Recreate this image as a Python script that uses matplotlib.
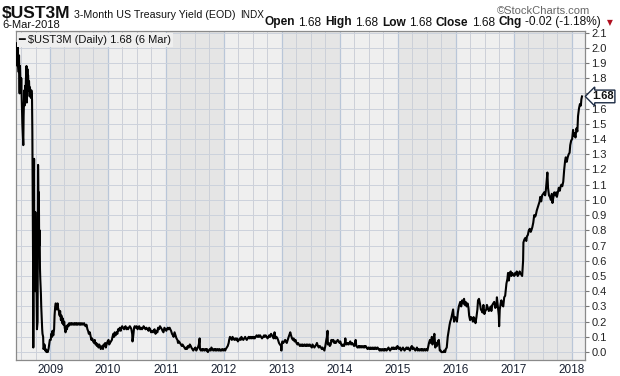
import datetime as dt
import matplotlib
matplotlib.use("Agg")
import matplotlib.pyplot as plt
import matplotlib.dates as mdates

plt.rcParams['font.family'] = ['Liberation Sans', 'DejaVu Sans']

# yields, per year: (MM-DD, value)
d2008 = ['06-06', '06-09', '06-11', '06-13', '06-17', '06-19', '06-23', '06-25', '06-27', '07-01',
         '07-03', '07-08', '07-10', '07-14', '07-16', '07-18', '07-22', '07-24', '07-28', '07-30',
         '08-01', '08-05', '08-07', '08-11', '08-13', '08-15', '08-19', '08-21', '08-25', '08-27',
         '08-29', '09-03', '09-05', '09-09', '09-11', '09-12', '09-15', '09-16', '09-17', '09-18',
         '09-19', '09-22', '09-23', '09-25', '09-26', '09-29', '09-30', '10-02', '10-06', '10-08',
         '10-10', '10-14', '10-16', '10-17', '10-20', '10-22', '10-24', '10-27', '10-29', '10-31',
         '11-04', '11-06', '11-10', '11-12', '11-14', '11-18', '11-20', '11-24', '11-26', '12-01',
         '12-04', '12-09', '12-12', '12-17', '12-22', '12-26', '12-30']
v2008 = [2.03, 1.88, 2.02, 1.90, 1.84, 1.95, 1.70, 1.88, 1.80, 1.72,
         1.80, 1.60, 1.50, 1.40, 1.36, 1.55, 1.72, 1.62, 1.75, 1.68,
         1.78, 1.88, 1.64, 1.86, 1.75, 1.82, 1.72, 1.78, 1.68, 1.74,
         1.70, 1.67, 1.72, 1.66, 1.45, 1.27, 0.80, 0.50, 0.03, 0.25,
         0.95, 1.27, 0.70, 0.60, 0.88, 0.40, 0.92, 0.60, 0.55, 0.35,
         0.15, 0.20, 0.90, 1.23, 0.95, 1.05, 0.70, 0.80, 0.55, 0.48,
         0.38, 0.30, 0.20, 0.15, 0.12, 0.10, 0.02, 0.03, 0.05, 0.01,
         0.02, 0.00, 0.01, 0.00, 0.02, 0.05, 0.08]

d2009 = ['01-05', '01-08', '01-13', '01-16', '01-21', '01-26', '01-29', '02-02', '02-05', '02-09',
         '02-12', '02-17', '02-20', '02-25', '03-02', '03-05', '03-10', '03-13', '03-18', '03-23',
         '03-26', '03-31', '04-03', '04-08', '04-14', '04-17', '04-22', '04-27', '05-01', '05-06',
         '05-11', '05-15', '05-20', '05-26', '06-01', '06-05', '06-10', '06-15', '06-19', '06-24',
         '06-30', '07-06', '07-10', '07-15', '07-21', '07-27', '08-03', '08-07', '08-12', '08-18',
         '08-24', '08-28', '09-02', '09-08', '09-14', '09-18', '09-23', '09-29', '10-05', '10-09',
         '10-14', '10-19', '10-23', '10-28', '11-02', '11-06', '11-11', '11-16', '11-20', '11-25',
         '11-30', '12-04', '12-09', '12-14', '12-18', '12-23', '12-29']
v2009 = [0.08, 0.12, 0.10, 0.14, 0.11, 0.15, 0.24, 0.30, 0.32, 0.31,
         0.28, 0.32, 0.29, 0.27, 0.24, 0.27, 0.21, 0.24, 0.19, 0.22,
         0.18, 0.20, 0.16, 0.13, 0.17, 0.15, 0.18, 0.17, 0.19, 0.18,
         0.19, 0.18, 0.19, 0.18, 0.19, 0.18, 0.19, 0.18, 0.19, 0.18,
         0.19, 0.18, 0.19, 0.18, 0.19, 0.18, 0.19, 0.18, 0.17, 0.18,
         0.15, 0.14, 0.12, 0.13, 0.10, 0.08, 0.09, 0.07, 0.06, 0.08,
         0.05, 0.06, 0.04, 0.05, 0.03, 0.05, 0.04, 0.02, 0.03, 0.04,
         0.02, 0.05, 0.04, 0.06, 0.03, 0.05, 0.07]

d2010 = ['01-04', '01-08', '01-13', '01-19', '01-25', '01-29', '02-03', '02-08', '02-12', '02-18',
         '02-24', '03-01', '03-05', '03-10', '03-16', '03-22', '03-26', '03-31', '04-06', '04-12',
         '04-16', '04-21', '04-27', '05-03', '05-07', '05-12', '05-18', '05-24', '05-28', '06-02',
         '06-04', '06-08', '06-14', '06-18', '06-24', '06-30', '07-06', '07-12', '07-16', '07-22',
         '07-28', '08-03', '08-09', '08-13', '08-19', '08-25', '08-31', '09-07', '09-13', '09-17',
         '09-23', '09-29', '10-05', '10-11', '10-15', '10-21', '10-27', '11-02', '11-08', '11-12',
         '11-18', '11-24', '11-30', '12-06', '12-10', '12-16', '12-22', '12-28']
v2010 = [0.08, 0.05, 0.06, 0.07, 0.08, 0.10, 0.12, 0.10, 0.13, 0.11,
         0.13, 0.12, 0.15, 0.14, 0.16, 0.14, 0.16, 0.17, 0.16, 0.15,
         0.16, 0.17, 0.15, 0.16, 0.15, 0.16, 0.17, 0.16, 0.15, 0.12,
         0.07, 0.10, 0.16, 0.17, 0.16, 0.17, 0.15, 0.16, 0.17, 0.15,
         0.16, 0.15, 0.16, 0.17, 0.16, 0.15, 0.16, 0.15, 0.14, 0.16,
         0.15, 0.13, 0.14, 0.13, 0.14, 0.15, 0.12, 0.14, 0.13, 0.16,
         0.15, 0.17, 0.16, 0.15, 0.14, 0.13, 0.16, 0.15]

d2011 = ['01-03', '01-07', '01-12', '01-18', '01-24', '01-28', '02-02', '02-08', '02-14', '02-18',
         '02-24', '03-02', '03-08', '03-14', '03-18', '03-24', '03-30', '04-05', '04-11', '04-15',
         '04-21', '04-27', '05-03', '05-09', '05-13', '05-19', '05-25', '05-31', '06-06', '06-10',
         '06-16', '06-22', '06-28', '07-05', '07-11', '07-15', '07-21', '07-27', '08-01', '08-03',
         '08-09', '08-15', '08-19', '08-25', '08-31', '09-06', '09-12', '09-16', '09-22', '09-28',
         '10-04', '10-10', '10-14', '10-20', '10-26', '11-01', '11-07', '11-11', '11-17', '11-23',
         '11-29', '12-05', '12-09', '12-15', '12-21', '12-27']
v2011 = [0.14, 0.15, 0.16, 0.15, 0.16, 0.15, 0.14, 0.12, 0.11, 0.10,
         0.13, 0.11, 0.09, 0.08, 0.06, 0.07, 0.06, 0.05, 0.04, 0.05,
         0.04, 0.03, 0.02, 0.03, 0.02, 0.04, 0.03, 0.05, 0.04, 0.03,
         0.02, 0.01, 0.02, 0.03, 0.01, 0.02, 0.03, 0.05, 0.09, 0.02,
         0.01, 0.02, 0.01, 0.02, 0.01, 0.02, 0.01, 0.02, 0.00, 0.01,
         0.02, 0.01, 0.03, 0.02, 0.01, 0.02, 0.01, 0.02, 0.01, 0.02,
         0.01, 0.02, 0.01, 0.01, 0.02, 0.01]

d2012 = ['01-03', '01-09', '01-13', '01-19', '01-25', '01-31', '02-03', '02-08', '02-14', '02-20',
         '02-24', '03-01', '03-07', '03-13', '03-19', '03-23', '03-29', '04-04', '04-10', '04-16',
         '04-20', '04-26', '05-02', '05-08', '05-14', '05-18', '05-24', '05-30', '06-05', '06-11',
         '06-15', '06-21', '06-27', '07-03', '07-09', '07-13', '07-19', '07-25', '07-31', '08-06',
         '08-10', '08-16', '08-22', '08-28', '09-04', '09-10', '09-14', '09-20', '09-26', '10-02',
         '10-08', '10-12', '10-18', '10-24', '10-30', '11-05', '11-09', '11-15', '11-21', '11-27',
         '12-03', '12-07', '12-13', '12-19', '12-26', '12-28', '12-31']
v2012 = [0.02, 0.01, 0.02, 0.03, 0.04, 0.06, 0.08, 0.10, 0.09, 0.08,
         0.10, 0.09, 0.08, 0.09, 0.08, 0.09, 0.07, 0.08, 0.09, 0.08,
         0.10, 0.09, 0.08, 0.09, 0.10, 0.09, 0.08, 0.09, 0.10, 0.09,
         0.10, 0.09, 0.10, 0.09, 0.10, 0.09, 0.10, 0.11, 0.10, 0.11,
         0.10, 0.11, 0.10, 0.09, 0.10, 0.11, 0.10, 0.11, 0.10, 0.09,
         0.10, 0.11, 0.10, 0.12, 0.11, 0.10, 0.09, 0.13, 0.09, 0.10,
         0.09, 0.08, 0.06, 0.05, 0.04, 0.01, 0.05]

d2013 = ['01-03', '01-09', '01-15', '01-21', '01-25', '01-31', '02-06', '02-12', '02-19', '02-22',
         '02-27', '03-05', '03-11', '03-15', '03-21', '03-27', '04-02', '04-08', '04-12', '04-18',
         '04-24', '04-30', '05-06', '05-10', '05-16', '05-22', '05-28', '06-03', '06-07', '06-13',
         '06-19', '06-25', '07-01', '07-08', '07-12', '07-18', '07-24', '07-30', '08-05', '08-09',
         '08-15', '08-21', '08-27', '09-03', '09-09', '09-13', '09-19', '09-25', '10-01', '10-07',
         '10-11', '10-15', '10-17', '10-23', '10-29', '11-04', '11-08', '11-14', '11-20', '11-26',
         '12-02', '12-06', '12-12', '12-18', '12-24', '12-30']
v2013 = [0.07, 0.06, 0.07, 0.08, 0.07, 0.06, 0.08, 0.10, 0.12, 0.13,
         0.11, 0.09, 0.08, 0.09, 0.07, 0.08, 0.06, 0.05, 0.06, 0.05,
         0.04, 0.05, 0.04, 0.05, 0.04, 0.05, 0.04, 0.05, 0.04, 0.05,
         0.04, 0.05, 0.04, 0.03, 0.05, 0.04, 0.03, 0.04, 0.05, 0.06,
         0.04, 0.03, 0.04, 0.03, 0.02, 0.03, 0.02, 0.01, 0.04, 0.08,
         0.10, 0.14, 0.05, 0.06, 0.04, 0.05, 0.08, 0.07, 0.08, 0.06,
         0.07, 0.06, 0.07, 0.08, 0.07, 0.06]

d2014 = ['01-03', '01-09', '01-15', '01-21', '01-27', '01-31', '02-04', '02-07', '02-13', '02-19',
         '02-25', '03-03', '03-07', '03-13', '03-19', '03-25', '03-31', '04-04', '04-10', '04-14',
         '04-22', '04-28', '05-02', '05-08', '05-14', '05-20', '05-27', '06-02', '06-06', '06-12',
         '06-18', '06-24', '06-30', '07-07', '07-11', '07-17', '07-23', '07-29', '08-04', '08-08',
         '08-14', '08-20', '08-26', '09-02', '09-08', '09-12', '09-18', '09-24', '09-30', '10-06',
         '10-10', '10-16', '10-22', '10-28', '11-03', '11-07', '11-13', '11-19', '11-25', '12-01',
         '12-05', '12-11', '12-17', '12-23', '12-29']
v2014 = [0.07, 0.05, 0.04, 0.05, 0.04, 0.05, 0.09, 0.06, 0.05, 0.06,
         0.05, 0.06, 0.07, 0.05, 0.06, 0.05, 0.04, 0.05, 0.08, 0.04,
         0.03, 0.04, 0.03, 0.04, 0.03, 0.04, 0.03, 0.04, 0.03, 0.04,
         0.03, 0.02, 0.03, 0.02, 0.03, 0.02, 0.03, 0.02, 0.03, 0.02,
         0.03, 0.02, 0.03, 0.02, 0.01, 0.02, 0.01, 0.02, 0.01, 0.02,
         0.01, 0.02, 0.01, 0.02, 0.03, 0.02, 0.01, 0.02, 0.03, 0.02,
         0.03, 0.02, 0.03, 0.02, 0.04]

d2015 = ['01-05', '01-09', '01-15', '01-21', '01-27', '02-02', '02-06', '02-12', '02-18', '02-24',
         '03-02', '03-06', '03-12', '03-18', '03-24', '03-30', '04-03', '04-09', '04-15', '04-21',
         '04-27', '05-01', '05-07', '05-13', '05-19', '05-26', '06-01', '06-05', '06-11', '06-17',
         '06-23', '06-29', '07-06', '07-10', '07-16', '07-22', '07-28', '08-03', '08-07', '08-13',
         '08-19', '08-25', '08-31', '09-04', '09-10', '09-16', '09-22', '09-28', '10-02', '10-08',
         '10-14', '10-20', '10-26', '10-30', '11-05', '11-11', '11-17', '11-23', '11-27', '12-03',
         '12-09', '12-15', '12-21', '12-28']
v2015 = [0.03, 0.02, 0.03, 0.01, 0.02, 0.03, 0.02, 0.01, 0.02, 0.03,
         0.02, 0.03, 0.02, 0.01, 0.03, 0.04, 0.02, 0.03, 0.02, 0.01,
         0.02, 0.03, 0.01, 0.02, 0.01, 0.02, 0.01, 0.02, 0.01, 0.02,
         0.01, 0.02, 0.01, 0.03, 0.06, 0.08, 0.06, 0.10, 0.05, 0.08,
         0.12, 0.03, 0.06, 0.04, 0.07, 0.08, 0.01, 0.01, 0.00, 0.00,
         0.00, 0.01, 0.00, 0.02, 0.03, 0.10, 0.14, 0.18, 0.20, 0.22,
         0.25, 0.28, 0.20, 0.23]

d2016 = ['01-04', '01-08', '01-14', '01-20', '01-26', '01-29', '02-04', '02-10', '02-16', '02-22',
         '02-26', '03-03', '03-09', '03-15', '03-21', '03-25', '03-31', '04-06', '04-12', '04-18',
         '04-22', '04-28', '05-04', '05-10', '05-16', '05-20', '05-26', '06-01', '06-07', '06-13',
         '06-17', '06-23', '06-29', '07-05', '07-11', '07-15', '07-21', '07-27', '08-02', '08-08',
         '08-12', '08-18', '08-24', '08-30', '09-06', '09-12', '09-16', '09-22', '09-28', '09-30',
         '10-04', '10-10', '10-14', '10-20', '10-26', '11-01', '11-07', '11-10', '11-15', '11-21',
         '11-25', '11-30', '12-06', '12-12', '12-16', '12-22', '12-28']
v2016 = [0.22, 0.20, 0.26, 0.30, 0.32, 0.33, 0.30, 0.34, 0.32, 0.35,
         0.31, 0.33, 0.30, 0.32, 0.29, 0.24, 0.21, 0.23, 0.22, 0.20,
         0.23, 0.22, 0.19, 0.23, 0.28, 0.34, 0.35, 0.32, 0.28, 0.27,
         0.26, 0.31, 0.25, 0.27, 0.28, 0.31, 0.29, 0.27, 0.28, 0.30,
         0.27, 0.31, 0.32, 0.33, 0.29, 0.30, 0.36, 0.30, 0.24, 0.17,
         0.28, 0.32, 0.34, 0.31, 0.30, 0.36, 0.37, 0.40, 0.45, 0.48,
         0.52, 0.47, 0.52, 0.53, 0.50, 0.52, 0.51]

d2017 = ['01-03', '01-09', '01-13', '01-19', '01-25', '01-31', '02-06', '02-10', '02-16', '02-22',
         '02-28', '03-02', '03-08', '03-14', '03-20', '03-24', '03-30', '04-05', '04-11', '04-17',
         '04-21', '04-27', '05-03', '05-09', '05-15', '05-19', '05-25', '05-31', '06-06', '06-12',
         '06-16', '06-22', '06-28', '07-05', '07-11', '07-17', '07-21', '07-27', '07-31', '08-04',
         '08-10', '08-16', '08-22', '08-28', '09-01', '09-07', '09-13', '09-19', '09-25', '09-29',
         '10-05', '10-11', '10-17', '10-23', '10-27', '11-02', '11-08', '11-14', '11-20', '11-24',
         '11-30', '12-06', '12-12', '12-18', '12-22', '12-28']
v2017 = [0.50, 0.52, 0.51, 0.53, 0.50, 0.51, 0.53, 0.52, 0.51, 0.50,
         0.60, 0.72, 0.74, 0.75, 0.73, 0.76, 0.77, 0.80, 0.81, 0.79,
         0.80, 0.82, 0.85, 0.90, 0.89, 0.90, 0.93, 0.95, 0.97, 0.99,
         1.02, 0.99, 1.03, 1.04, 1.05, 1.03, 1.06, 1.13, 1.18, 1.08,
         1.03, 1.02, 1.00, 1.04, 0.98, 1.02, 1.05, 1.03, 1.05, 1.02,
         1.05, 1.08, 1.06, 1.09, 1.10, 1.09, 1.12, 1.20, 1.26, 1.28,
         1.25, 1.28, 1.30, 1.31, 1.36, 1.39]

d2018 = ['01-03', '01-09', '01-12', '01-18', '01-24', '01-30', '02-05', '02-09', '02-15', '02-21',
         '02-27', '03-02', '03-06']
v2018 = [1.40, 1.46, 1.42, 1.44, 1.41, 1.47, 1.45, 1.55, 1.60, 1.63,
         1.62, 1.66, 1.68]

year_days = {2008: d2008, 2009: d2009, 2010: d2010, 2011: d2011, 2012: d2012,
             2013: d2013, 2014: d2014, 2015: d2015, 2016: d2016, 2017: d2017, 2018: d2018}
year_vals = {2008: v2008, 2009: v2009, 2010: v2010, 2011: v2011, 2012: v2012,
             2013: v2013, 2014: v2014, 2015: v2015, 2016: v2016, 2017: v2017, 2018: v2018}

dates, yields = [], []
for yr in sorted(year_days):
    for md, v in zip(year_days[yr], year_vals[yr]):
        dates.append(dt.datetime.strptime(f"{yr}-{md}", "%Y-%m-%d"))
        yields.append(v)

year_ticks = list(range(2009, 2019))
y_ticks = [i / 10 for i in range(0, 22)]
last_value = 1.68

W, H = 620, 376
fig = plt.figure(figsize=(W / 100, H / 100), dpi=100)
fig.patch.set_facecolor('white')
ax = fig.add_axes([16 / W, 1 - 360 / H, (585 - 16) / W, (360 - 31) / H])
ax.set_facecolor('#efefef')

x0 = mdates.date2num(dt.datetime(2008, 5, 31))
x1 = mdates.date2num(dt.datetime(2018, 3, 25))
ax.set_xlim(x0, x1)
ax.set_ylim(-0.052, 2.11)

# alternate year shading
for yr in range(2009, 2019, 2):
    ax.axvspan(dt.datetime(yr, 1, 1), dt.datetime(yr + 1, 1, 1), color='#e5e5e5', lw=0, zorder=0)

# grid: quarters light, year boundaries a bit bluer
for yr in range(2008, 2019):
    for m in (1, 4, 7, 10):
        d = dt.datetime(yr, m, 1)
        if x0 < mdates.date2num(d) < x1:
            if m == 1:
                ax.axvline(d, color='#b9c6d8', lw=0.9, zorder=1)
            else:
                ax.axvline(d, color='#ccd0d8', lw=0.7, zorder=1)
for yv in y_ticks:
    ax.axhline(yv, color='#ccd2dc', lw=0.7, zorder=1)

ax.plot(dates, yields, color='black', lw=1.5, zorder=3)

ax.yaxis.tick_right()
ax.set_yticks(y_ticks)
# the 1.7 label sits under the last-value tag
ax.set_yticklabels(["" if abs(t - 1.7) < 1e-9 else f"{t:.1f}" for t in y_ticks])
ax.tick_params(axis='y', length=3, width=0.8, color='#777777', pad=1.5,
               labelsize=8, labelcolor='#222222')
ax.set_xticks([mdates.date2num(dt.datetime(y, 1, 1)) for y in year_ticks])
ax.set_xticklabels([str(y) for y in year_ticks])
ax.tick_params(axis='x', length=0, pad=3, labelsize=8.5, labelcolor='#1a2233')
for s in ax.spines.values():
    s.set_color('#8a8a8a')
    s.set_linewidth(0.9)

# legend line inside the plot
ax.text(0.004, 0.988, "\u2501 $UST3M (Daily) 1.68 (6 Mar)", transform=ax.transAxes,
        ha='left', va='top', fontsize=8, color='#111111', zorder=5,
        bbox=dict(boxstyle='square,pad=0.15', facecolor='#efefef', edgecolor='none'))

# last value tag on the right axis
ax.annotate(f"{last_value:.2f}", xy=(1.0, last_value), xycoords=('axes fraction', 'data'),
            xytext=(5, 0), textcoords='offset points', ha='left', va='center',
            fontsize=8, fontweight='bold', color='#111111', annotation_clip=False,
            bbox=dict(boxstyle='larrow,pad=0.12', facecolor='white', edgecolor='#1c2b44', lw=1.0))

# header rows
renderer = fig.canvas.get_renderer()


def text_row(pieces, x_px, base_px, align='left', gap=3):
    objs = [fig.text(0, 0, s, va='baseline', **kw) for s, kw in pieces]
    widths = [t.get_window_extent(renderer).width for t in objs]
    total = sum(widths) + gap * (len(objs) - 1)
    x = x_px - total if align == 'right' else x_px
    for t, w in zip(objs, widths):
        t.set_position((x / W, 1 - base_px / H))
        x += w + gap


text_row([("$UST3M", dict(fontsize=12.5, fontweight='bold', color='#111111')),
          ("3-Month US Treasury Yield (EOD)", dict(fontsize=7.7, color='#111111')),
          ("INDX", dict(fontsize=7.2, color='#111111'))], 2, 18, gap=4)
text_row([("6-Mar-2018", dict(fontsize=8, color='#111111'))], 2, 28)
text_row([("\u00a9StockCharts.com", dict(fontsize=8, color='#666666'))], 590, 14, align='right')

b = dict(fontsize=8.6, fontweight='bold', color='#111111')
n = dict(fontsize=8.6, color='#111111')
text_row([("Open", b), ("1.68", n), ("High", b), ("1.68", n), ("Low", b), ("1.68", n),
          ("Close", b), ("1.68", n), ("Chg", b), ("-0.02 (-1.18%)", n)], 601, 25.5,
         align='right', gap=3.5)
fig.text(610 / W, 1 - 23 / H, "\u25bc", fontsize=5.5, color='#b01020', ha='center', va='center',
         family=['DejaVu Sans'])

fig.savefig('out.png', dpi=100, facecolor='white')
